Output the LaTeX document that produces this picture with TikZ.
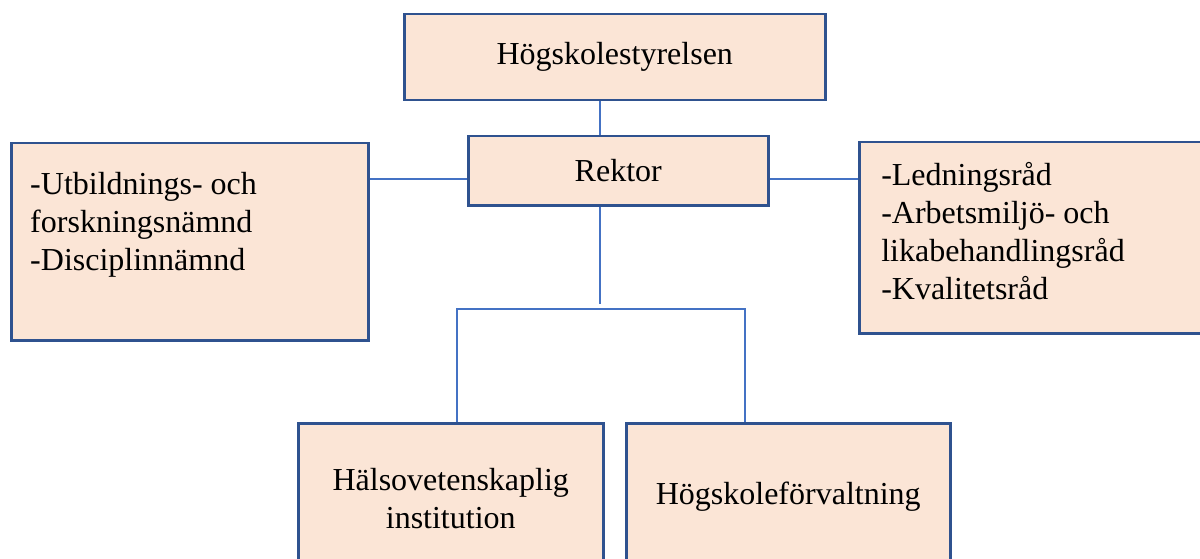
\documentclass[tikz,border=0pt]{standalone}
\usepackage{fontspec}
\setmainfont{Liberation Serif}
\usepackage{tikz}
\definecolor{boxfill}{RGB}{251, 229, 214}
\definecolor{boxline}{RGB}{47, 82, 143}
\definecolor{linkblue}{RGB}{68, 114, 196}
\tikzset{
    orgbox/.style={fill=boxfill, draw=boxline, line width=2.5pt, inner sep=0pt, anchor=north west, font=\fontsize{32}{38}\selectfont},
    link/.style={draw=linkblue, line width=1.5pt}
}

\begin{document}
\begin{tikzpicture}[x=1pt, y=-1pt]
    \useasboundingbox (0,0) rectangle (1200,559);

    \node[orgbox, minimum width=421pt, minimum height=86pt] (styrelse) at (403,13) {Högskolestyrelsen};
    \node[orgbox, minimum width=300pt, minimum height=69pt] (rektor) at (467,135) {Rektor};
    \node[orgbox, inner xsep=19pt] (namnder) at (10,142) {
        \begin{minipage}[c][197pt][t]{319pt}
            \vspace*{29pt}
            -Utbildnings- och\\
            forskningsnämnd\\
            -Disciplinnämnd
        \end{minipage}
    };
    \node[orgbox, inner xsep=22pt] (rad) at (858,141) {
        \begin{minipage}[c][191pt][t]{340pt}
            \vspace*{20pt}
            -Ledningsråd\\
            -Arbetsmiljö- och\\
            likabehandlingsråd\\
            -Kvalitetsråd
        \end{minipage}
    };
    \node[orgbox, minimum width=305pt, minimum height=150pt, align=center] (inst) at (297,422) {Hälsovetenskaplig\\institution};
    \node[orgbox, minimum width=324pt, minimum height=146pt] (forv) at (625,422) {Högskoleförvaltning};

    % connectors
    \coordinate (stem) at (600,304);
    \coordinate (midrow) at (0,179);
    \coordinate (lbranch) at (457,309);
    \coordinate (rbranch) at (745,309);
    \draw[link] (styrelse.south -| stem) -- (rektor.north -| stem);
    \draw[link] (rektor.south -| stem) -- (stem);
    \draw[link] (namnder.east |- midrow) -- (rektor.west |- midrow);
    \draw[link] (rektor.east |- midrow) -- (rad.west |- midrow);
    \draw[link] (inst.north -| lbranch) -- (lbranch) -- (rbranch) -- (forv.north -| rbranch);
\end{tikzpicture}
\end{document}
